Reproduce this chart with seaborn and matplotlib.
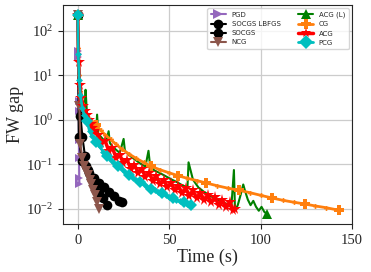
import numpy as np
import pandas as pd
import matplotlib
matplotlib.use("Agg")
import matplotlib.pyplot as plt
import seaborn as sns

sns.set_style("ticks", {"axes.grid": True})
plt.rcParams["font.family"] = ["Liberation Serif", "DejaVu Serif"]
plt.rcParams["mathtext.fontset"] = "stix"

# PGD
t_pgd = [0, 0.15, 0.25, 0.35, 0.45, 0.55, 0.65, 0.75, 0.85, 0.95]
gap_pgd = [230, 35, 30, 25, 2.6, 1.6, 0.35, 0.14, 0.05, 0.035]

# SOCGS LBFGS
t_lbfgs = [0, 0.6, 2.2, 4.5, 6.3, 8.8, 11.5, 14.3, 17.0, 19.8, 22.4, 24.0]
gap_lbfgs = [230, 0.4, 0.12, 0.09, 0.065, 0.048, 0.038, 0.031, 0.024, 0.019, 0.015, 0.014]

# SOCGS
t_socgs = [0, 1.5, 2.6, 4.0, 5.5, 7.5, 9.5, 11.7, 14.0, 16.0]
gap_socgs = [230, 1.2, 0.4, 0.15, 0.075, 0.048, 0.033, 0.023, 0.017, 0.012]

# NCG
t_ncg = [0, 0.9, 1.5, 2.5, 3.5, 4.5, 5.5, 6.5, 7.5, 8.5, 9.5, 10.5, 11.5]
gap_ncg = [230, 2.0, 0.28, 0.14, 0.09, 0.07, 0.058, 0.045, 0.035, 0.027, 0.02, 0.014, 0.0097]

# ACG (L)
t_acgl = [0, 0.5, 1, 2, 3, 3.8, 4.3, 5, 6, 7, 8, 9, 10, 10.6, 11.2, 12.5, 14, 15.5,
          16.9, 17.6, 19, 21, 23, 25.1, 25.8, 28, 31, 34, 37, 38.7, 39.6, 42, 45, 48,
          51, 54, 57, 60, 60.6, 63, 66, 69, 72, 75, 78, 81, 84, 85.4, 86, 87.5, 89,
          90.5, 91.5, 93, 94.5, 96, 97.5, 99, 100.5, 102, 103.3]
gap_acgl = [230, 20, 6, 3, 2.0, 1.7, 4.7, 1.5, 1.1, 0.85, 0.7, 0.58, 0.5, 1.3, 0.5,
            0.42, 0.36, 0.31, 0.55, 0.3, 0.25, 0.21, 0.18, 0.37, 0.2, 0.16, 0.13,
            0.105, 0.088, 0.2, 0.09, 0.072, 0.063, 0.054, 0.046, 0.04, 0.034, 0.03,
            0.11, 0.045, 0.03, 0.024, 0.02, 0.017, 0.015, 0.013, 0.011, 0.074, 0.009,
            0.012, 0.02, 0.035, 0.025, 0.016, 0.012, 0.015, 0.011, 0.009, 0.011,
            0.0085, 0.0077]

# CG
t_cg = [0, 0.3, 0.8, 1.5, 2.5, 4, 6, 8, 10, 12.5, 15, 18, 21, 24, 28, 32, 36, 40,
        45, 50, 55, 60, 65, 70, 76, 82, 88, 94, 100, 106, 112, 118, 124, 130, 136, 143]
gap_cg = [230, 40, 10, 4.5, 2.4, 1.5, 1.1, 0.9, 0.76, 0.58, 0.46, 0.36, 0.28, 0.22,
          0.17, 0.135, 0.11, 0.09, 0.075, 0.064, 0.055, 0.048, 0.043, 0.038, 0.033,
          0.029, 0.026, 0.023, 0.020, 0.0175, 0.0155, 0.014, 0.0128, 0.0115, 0.0105,
          0.0092]

# ACG
t_acg = [0, 0.5, 1, 2, 3, 4, 5, 6, 7, 8, 9, 11, 13, 15, 17, 19, 21, 23, 25, 27, 29,
         31, 33, 35, 37, 39, 41, 43, 45, 47, 49, 51, 53, 55, 57, 59, 61, 63, 65, 67,
         69, 71, 73, 75, 77, 79, 81, 83, 85, 86]
gap_acg = [230, 20, 6, 3, 2, 1.6, 1.3, 1.0, 0.8, 0.65, 0.55, 0.46, 0.3, 0.33, 0.2,
           0.23, 0.14, 0.16, 0.105, 0.125, 0.08, 0.098, 0.064, 0.078, 0.052, 0.064,
           0.043, 0.054, 0.036, 0.045, 0.030, 0.038, 0.026, 0.033, 0.022, 0.029,
           0.0195, 0.026, 0.017, 0.023, 0.0155, 0.020, 0.0138, 0.018, 0.0122, 0.016,
           0.0108, 0.014, 0.0095, 0.0098]

# PCG
t_pcg = [0, 0.3, 0.8, 1.5, 2.5, 3.5, 5, 6.5, 8, 10, 12, 14, 16, 18, 20, 22, 24, 26,
         28, 30, 32, 34, 36, 38, 40, 42, 44, 46, 48, 50, 52, 54, 56, 58, 60, 62]
gap_pcg = [230, 30, 8, 3.5, 1.8, 1.3, 0.95, 0.55, 0.42, 0.31, 0.25, 0.19, 0.15,
           0.125, 0.105, 0.09, 0.077, 0.066, 0.057, 0.05, 0.044, 0.039, 0.035, 0.031,
           0.028, 0.026, 0.024, 0.022, 0.020, 0.0185, 0.017, 0.0158, 0.0148, 0.014,
           0.013, 0.012]

series = [
    ("PGD", t_pgd, gap_pgd, "tab:purple", ">", 1.5, 6, None),
    ("SOCGS LBFGS", t_lbfgs, gap_lbfgs, "black", "o", 1.5, 7, None),
    ("SOCGS", t_socgs, gap_socgs, "black", "o", 1.5, 7, None),
    ("NCG", t_ncg, gap_ncg, "tab:brown", "v", 1.5, 7, None),
    ("ACG (L)", t_acgl, gap_acgl, "green", "^", 1.5, 7, [0, len(t_acgl) - 1]),
    ("CG", t_cg, gap_cg, "tab:orange", "P", 2, 7, [0, 8, 17, 20, 23, 26, 29, 32, 35]),
    ("ACG", t_acg, gap_acg, "red", "*", 2.5, 8.5, None),
    ("PCG", t_pcg, gap_pcg, "c", "D", 2, 6, [0, 6, 9, 12, 15, 18, 21, 24, 27, 30, 33, 35]),
]

fig = plt.figure(figsize=(3.71, 2.72), dpi=100)
ax = fig.add_axes([0.170, 0.176, 0.779, 0.806])

for name, t, g, col, mk, lw, ms, every in series:
    df = pd.DataFrame({"t": t, "gap": g})
    sns.lineplot(data=df, x="t", y="gap", ax=ax, color=col, marker=mk,
                 markersize=ms, markeredgewidth=0, lw=lw, label=name,
                 markevery=every, estimator=None)
    if every is not None and name in ("CG", "PCG"):
        sns.lineplot(data=df, x="t", y="gap", ax=ax, color=col, marker=mk,
                     markersize=3.5, markeredgewidth=0, lw=0, estimator=None,
                     legend=False)

ax.set_yscale("log")
ax.set_xlim(-8, 150)
ax.set_ylim(0.0045, 380)
ax.yaxis.set_minor_locator(matplotlib.ticker.NullLocator())
ax.set_xticks([0, 50, 100, 150])
ax.tick_params(labelsize=10.5)
ax.set_xlabel("Time (s)", fontsize=13, labelpad=1)
ax.set_ylabel("FW gap", fontsize=13, labelpad=2)
ax.grid(True, color="0.8", lw=0.9)

leg = ax.legend(loc="upper right", ncol=2, prop={"family": "DejaVu Sans", "size": 5},
                handlelength=2.2, columnspacing=2.5, labelspacing=0.45,
                borderpad=0.5, framealpha=0.8)
for h in leg.legend_handles:
    h.set_markevery([1])
    h.set_markersize(7)

fig.savefig("out.png", dpi=100)
